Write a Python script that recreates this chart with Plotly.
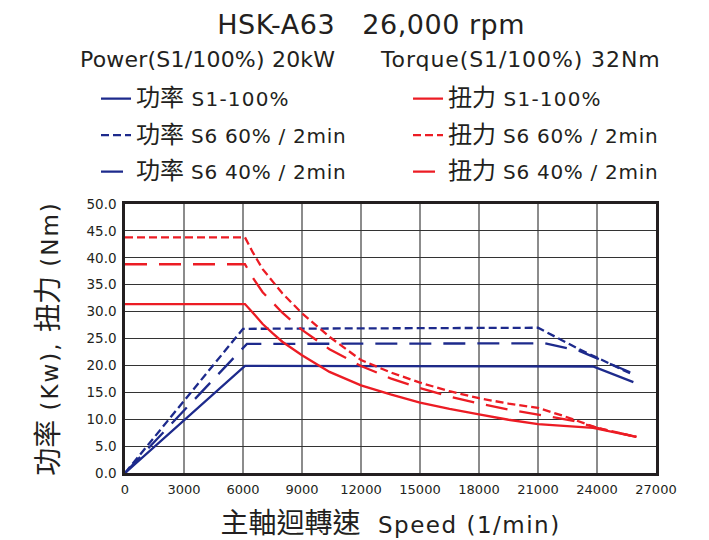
import plotly.graph_objects as go

# ---- data ----
power_s1_rpm = [0, 6100, 23800, 25850]
power_s1_kw = [0, 19.9, 19.8, 16.9]

power_s6_60_rpm = [0, 6000, 21000, 23100, 25700]
power_s6_60_kw = [0, 26.8, 27.0, 23.0, 18.5]

power_s6_40_rpm = [0, 6200, 21350, 23100, 25700]
power_s6_40_kw = [0, 24.0, 24.1, 22.7, 18.7]

torque_s1_rpm = [0, 6100, 6500, 7000, 7500, 8000, 9000, 10400, 12000, 13500, 15000, 16500, 18000, 19500, 21000, 22500, 23800, 26000]
torque_s1_nm = [31.4, 31.4, 29.8, 27.7, 26.0, 24.4, 21.9, 18.8, 16.3, 14.6, 13.1, 11.9, 10.9, 9.9, 9.1, 8.7, 8.4, 6.7]

torque_s6_60_rpm = [0, 6100, 6500, 7000, 8000, 9000, 10400, 12000, 13500, 15000, 16500, 18000, 19500, 21000, 22300, 24000, 26000]
torque_s6_60_nm = [43.8, 43.8, 41.0, 37.9, 33.4, 29.7, 25.3, 21.0, 18.7, 16.8, 15.2, 13.9, 12.9, 12.1, 10.6, 8.4, 6.7]

torque_s6_40_rpm = [0, 6100, 6500, 7000, 8000, 9000, 10400, 12000, 13500, 15000, 16500, 18000, 19500, 21000, 22800, 24000, 26000]
torque_s6_40_nm = [38.8, 38.8, 36.3, 33.6, 29.8, 26.6, 23.0, 19.9, 17.6, 15.8, 14.2, 12.9, 11.8, 10.9, 9.7, 8.4, 6.7]

x_ticks = [0, 3000, 6000, 9000, 12000, 15000, 18000, 21000, 24000, 27000]
y_ticks = [0, 5, 10, 15, 20, 25, 30, 35, 40, 45, 50]

power_header = "Power(S1/100%) 20kW"
torque_header = "Torque(S1/100%) 32Nm"


def cjk(s, size):
    return f"<span style='font-size:{size}px'>{s}</span>"


def spaced(s, px):
    return f"<span style='letter-spacing:{px}px'>{s}</span>"


title_text = spaced("HSK-A63&nbsp;&nbsp;&nbsp;26,000 rpm", 0.5)
x_title = cjk("主軸迴轉速", 28) + spaced("&nbsp;&nbsp;Speed (1/min)", 1.5)
y_title = (cjk("功率", 28) + spaced(" (Kw), ", 2) + cjk("扭力", 28) + spaced(" (Nm)", 2))

power_names = [cjk("功率", 24) + spaced(" S1-100%", 1.2),
               cjk("功率", 24) + spaced(" S6 60% / 2min", 0.7),
               cjk("功率", 24) + spaced(" S6 40% / 2min", 0.7)]
torque_names = [cjk("扭力", 24) + spaced(" S1-100%", 1.2),
                cjk("扭力", 24) + spaced(" S6 60% / 2min", 0.7),
                cjk("扭力", 24) + spaced(" S6 40% / 2min", 0.7)]

BLUE = "#1d2a8c"
RED = "#ec1c24"
INK = "#231f20"
FONT = "'DejaVu Sans', 'Noto Sans CJK TC', sans-serif"

series = [
    (power_s1_rpm, power_s1_kw, BLUE, "solid", power_names[0], "legend", "p1"),
    (power_s6_60_rpm, power_s6_60_kw, BLUE, "8px,4px", power_names[1], "legend", "p2"),
    (power_s6_40_rpm, power_s6_40_kw, BLUE, "22px,12px", power_names[2], "legend", "p3"),
    (torque_s1_rpm, torque_s1_nm, RED, "solid", torque_names[0], "legend2", "t1"),
    (torque_s6_60_rpm, torque_s6_60_nm, RED, "8px,4px", torque_names[1], "legend2", "t2"),
    (torque_s6_40_rpm, torque_s6_40_nm, RED, "22px,12px", torque_names[2], "legend2", "t3"),
]

fig = go.Figure()
for xs, ys, col, dash, name, leg, grp in series:
    fig.add_trace(go.Scatter(
        x=xs, y=ys, mode="lines", name=name, legend=leg, legendgroup=grp,
        line=dict(color=col, width=2.3, dash=dash),
    ))

legend_common = dict(
    font=dict(family=FONT, size=20, color=INK),
    bgcolor="rgba(0,0,0,0)", borderwidth=0,
    xanchor="left", yanchor="top", tracegroupgap=7.5,
    orientation="v",
)

header_font = dict(family=FONT, size=22, color=INK)

fig.update_layout(
    width=701, height=532,
    margin=dict(l=117, r=53, t=196, b=67, autoexpand=False),
    paper_bgcolor="white", plot_bgcolor="white",
    font=dict(family=FONT, color=INK),
    title=dict(text=title_text, x=0.518, xanchor="center", y=0.968, yanchor="middle",
               font=dict(family=FONT, size=27, color=INK)),
    showlegend=True,
    legend=dict(x=-0.0546, y=1.464, **legend_common),
    legend2=dict(x=0.533, y=1.464, **legend_common),
    xaxis=dict(
        range=[0, 27000], tickvals=x_ticks, ticktext=[str(v) for v in x_ticks],
        showgrid=True, gridcolor="#8c8c8c", gridwidth=1.5,
        showline=True, linecolor=INK, linewidth=2.5, mirror=True,
        ticks="", zeroline=False, ticklabelstandoff=3, automargin=False,
        tickfont=dict(family=FONT, size=13, color=INK),
        title=dict(text=x_title, font=dict(family=FONT, size=23, color=INK), standoff=22),
    ),
    yaxis=dict(
        range=[0, 50], tickvals=y_ticks, ticktext=[f"{v:.1f}" for v in y_ticks],
        showgrid=True, gridcolor="#333333", gridwidth=1,
        showline=True, linecolor=INK, linewidth=2.5, mirror=True,
        ticks="", zeroline=False, ticklabelstandoff=3, automargin=False,
        tickfont=dict(family=FONT, size=13.5, color=INK),
        title=dict(text=y_title, font=dict(family=FONT, size=23, color=INK), standoff=22),
    ),
    annotations=[
        dict(text=spaced(power_header, 0.2), xref="paper", yref="paper", x=-0.0885, y=1.539,
             xanchor="left", yanchor="middle", showarrow=False, font=header_font),
        dict(text=spaced(torque_header, 0.9), xref="paper", yref="paper", x=0.476, y=1.539,
             xanchor="left", yanchor="middle", showarrow=False, font=header_font),
    ],
)

fig.write_html("out.html")
